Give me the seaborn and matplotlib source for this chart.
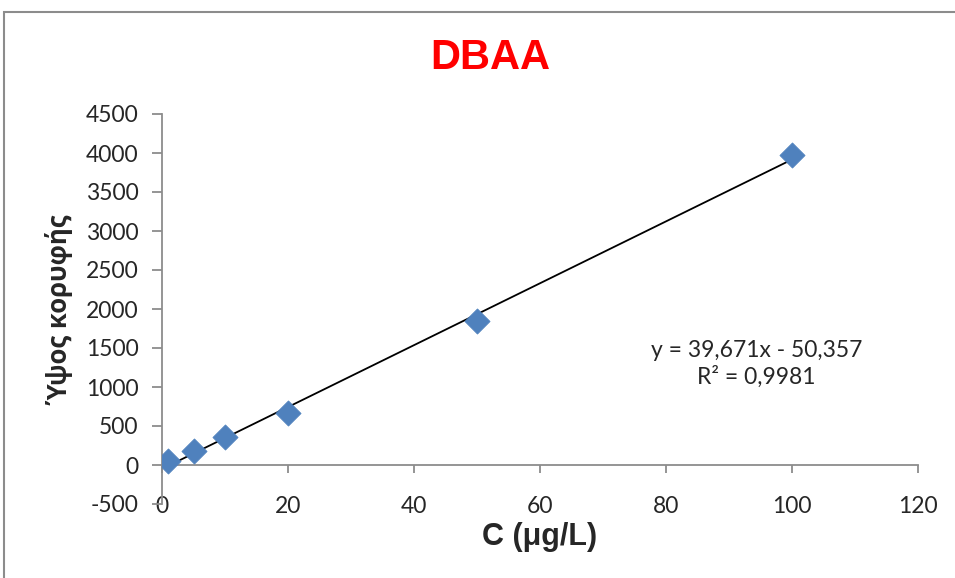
import numpy as np
import pandas as pd
import matplotlib
matplotlib.use("Agg")
import matplotlib.pyplot as plt
from matplotlib.patches import Rectangle
import seaborn as sns

# ---- data ----
conc = [1, 5, 10, 20, 50, 100]
height = [51, 180, 360, 665, 1848, 3972]
slope = 39.671
intercept = -50.357
eq_text = "y = 39,671x - 50,357\nR² = 0,9981"
x_ticks = [0, 20, 40, 60, 80, 100, 120]
y_ticks = [-500, 0, 500, 1000, 1500, 2000, 2500, 3000, 3500, 4000, 4500]
title = "DBAA"
xlabel = "C (μg/L)"
ylabel = "Ύψος κορυφής"

df = pd.DataFrame({"C": conc, "H": height})
trend = pd.DataFrame({"C": [min(conc), max(conc)]})
trend["H"] = slope * trend["C"] + intercept

sns.set_theme(style="white")
plt.rcParams["font.family"] = ["Lato", "DejaVu Sans"]

fig = plt.figure(figsize=(9.55, 5.78), dpi=100)
ax = fig.add_axes([162/955, 1-504/578, (918-162)/955, (504-114)/578])

sns.lineplot(data=trend, x="C", y="H", ax=ax, color="black", linewidth=1.3)
sns.scatterplot(data=df, x="C", y="H", ax=ax, marker="D", s=165,
                color="#4F81BD", edgecolor="#4F81BD", linewidth=0.5, zorder=5)

ax.set_xlim(0, 120)
ax.set_ylim(-500, 4500)
ax.set_xticks(x_ticks)
ax.set_yticks(y_ticks)
ax.set_xticklabels([str(v) for v in x_ticks])
ax.set_yticklabels([str(v) for v in y_ticks])

spine_col = "#8c8c8c"
for s in ["top", "right"]:
    ax.spines[s].set_visible(False)
ax.spines["bottom"].set_position(("data", 0))
ax.spines["bottom"].set_color(spine_col)
ax.spines["left"].set_color(spine_col)
ax.spines["bottom"].set_linewidth(1.3)
ax.spines["left"].set_linewidth(1.3)

ax.tick_params(axis="x", direction="out", length=6, width=1.3, color=spine_col,
               pad=16, labelsize=16.5, bottom=True)
ax.tick_params(axis="y", direction="out", length=7, width=1.3, color=spine_col,
               pad=10, labelsize=16.5, left=True)

ax.set_xlabel("")
ax.set_ylabel("")
fig.text(540/955, 1-537/578, xlabel, ha="center", va="center",
         fontsize=22, fontweight="bold", family=["Liberation Sans", "DejaVu Sans"])
fig.text(60/955, 1-310/578, ylabel, ha="center", va="center", rotation=90,
         fontsize=18.5, fontweight="bold", family=["Open Sans", "DejaVu Sans"])
fig.text(490/955, 1-58/578, title, ha="center", va="center", color="#FF0000",
         fontsize=30, fontweight="bold", family=["Liberation Sans", "DejaVu Sans"])

ax.text(94.4, 1300, eq_text, ha="center", va="center", fontsize=16.5,
        linespacing=1.25)

fig.patches.append(Rectangle((4/955, -0.1), 1.2, 1-12/578+0.1, transform=fig.transFigure,
                             fill=False, edgecolor="#8c8c8c", linewidth=1.5))

fig.savefig("out.png", dpi=100)
